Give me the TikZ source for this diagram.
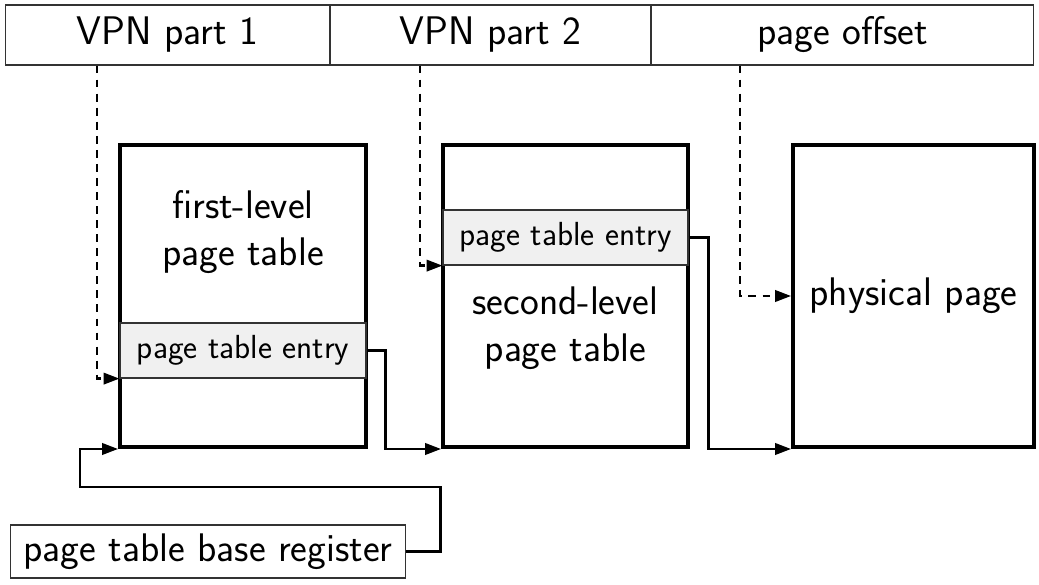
\documentclass[tikz,border=0pt]{standalone}
\usetikzlibrary{arrows.meta}
\begin{document}
\begin{tikzpicture}[x=0.02cm,y=-0.02cm,
  font=\sffamily\fontsize{22.7}{27}\selectfont,
  field/.style={draw=black!80,line width=0.6pt,minimum height=1.2cm,inner sep=0pt},
  table/.style={draw,line width=2.3pt,minimum height=6.04cm,inner sep=0pt},
  entry/.style={draw=black!80,line width=0.7pt,fill=black!6,minimum width=4.92cm,minimum height=1.1cm,inner sep=0pt,font=\sffamily\fontsize{19}{22}\selectfont},
  conn/.style={line width=1.3pt,-{Triangle[length=9pt,width=6.5pt]}},
  dconn/.style={conn,dash pattern=on 4.5pt off 3.5pt}]
\useasboundingbox (0,0) rectangle (1039,585);

\node[field,minimum width=6.5cm] (vpn1) at (167.5,35) {VPN part 1};
\node[field,minimum width=6.42cm] (vpn2) at (490.5,35) {VPN part 2};
\node[field,minimum width=7.66cm] (off) at (842.5,35) {page offset};

\node[table,minimum width=4.92cm] (lvl1) at (243,296) {};
\node[entry] (pte1) at (243,350.5) {page table entry};
\node[align=center] (lbl1) at (243,232) {first-level\\page table};

\node[table,minimum width=4.9cm] (lvl2) at (565.5,296) {};
\node[entry,minimum width=4.9cm] (pte2) at (565.5,237.5) {page table entry};
\node[align=center] (lbl2) at (565.5,328) {second-level\\page table};

\node[table,minimum width=4.82cm] (phys) at (913.5,296) {physical page};

\node[field,minimum width=7.92cm,minimum height=1.06cm] (ptbr) at (208,551.5) {page table base register};
\coordinate (bend) at (80,487);

\draw[dconn] (vpn1.south -| 97,0) |- (pte1.south west);
\draw[dconn] (vpn2.south -| 420,0) |- (pte2.south west);
\draw[dconn] (off.south -| 740,0) |- (phys.west);
\draw[conn] (pte1.east) -- ++(19,0) |- (lvl2.south west);
\draw[conn] (pte2.east) -- ++(20,0) |- (phys.south west);
\draw[conn] (ptbr.east) -- ++(34,0) |- (bend) |- (lvl1.south west);
\end{tikzpicture}
\end{document}
